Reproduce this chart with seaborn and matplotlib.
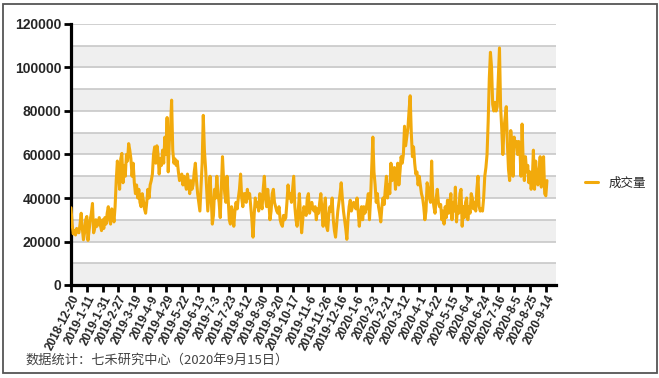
import numpy as np
import pandas as pd
import matplotlib
matplotlib.use("Agg")
import matplotlib.pyplot as plt
import seaborn as sns
from matplotlib.patches import Rectangle

# trading-day volume (one value per trading day)
seg00 = [35500, 28000, 23500, 25000, 23000, 26000, 24500, 24000, 28000, 33000, 26000, 20800, 24000, 30000]
seg01 = [31500, 20500, 25000, 30000, 33000, 37500, 24000, 26000, 30000, 27000, 29000, 31000, 27500, 25000]
seg02 = [30000, 26000, 31000, 28000, 33000, 36000, 30000, 28000, 35000, 34000, 29000, 36000, 48000, 57000]
seg03 = [52000, 44000, 58000, 60500, 47000, 55000, 50000, 60000, 57000, 65000, 62000, 58000, 50000, 56000]
seg04 = [47000, 42000, 46000, 40000, 44000, 38000, 36000, 42000, 39000, 35000, 33000, 38000, 44000, 40000]
seg05 = [46000, 48000, 51000, 60000, 63500, 56000, 64000, 60000, 51000, 58000, 55000, 62000, 56000, 68000]
seg06 = [60000, 77000, 52000, 66000, 72000, 85000, 62000, 56000, 58000, 55000, 57000, 52000, 48000, 50000]
seg07 = [51000, 46000, 50000, 47000, 44000, 51000, 47000, 42000, 48000, 44000, 46000, 52000, 56000, 48000]
seg08 = [42000, 38000, 34000, 45000, 56000, 78000, 62000, 54000, 44000, 34000, 42000, 50000, 40000, 28000]
seg09 = [32000, 44000, 40000, 50000, 42000, 38000, 31000, 45000, 59000, 48000, 42000, 38000, 50000, 40000]
seg10 = [30000, 28000, 36000, 33000, 27000, 34000, 38000, 35000, 40000, 44000, 51000, 40000, 36000, 42000]
seg11 = [42000, 38000, 44000, 40000, 42000, 36000, 30000, 22000, 32000, 40000, 36000, 38000, 34000, 42000]
seg12 = [38000, 35000, 44000, 50000, 40000, 36000, 44000, 38000, 30000, 34000, 42000, 44000, 38000, 36000]
seg13 = [34000, 33000, 36000, 30000, 28000, 27000, 32000, 30000, 31000, 38000, 46000, 40000, 42000, 38000]
seg14 = [44000, 50000, 36000, 30000, 27000, 34000, 42000, 32000, 24000, 30000, 36000, 34000, 32000, 40000]
seg15 = [42000, 33000, 36000, 38000, 35000, 34000, 36000, 30000, 35000, 33000, 38000, 42000, 34000, 27000]
seg16 = [36000, 40000, 27000, 25000, 32000, 36000, 34000, 40000, 30000, 25000, 22000, 28000, 34000, 38000]
seg17 = [42000, 47000, 40000, 34000, 30000, 26000, 21000, 30000, 36000, 39000, 34000, 36000, 38000, 37000]
seg18 = [35000, 40000, 34000, 27000, 32000, 36000, 30000, 36000, 33000, 35000, 38000, 42000, 30000, 40000]
seg19 = [54000, 68000, 52000, 46000, 38000, 42000, 36000, 33000, 29000, 36000, 40000, 37000, 44000, 50000]
seg20 = [40000, 46000, 42000, 56000, 48000, 52000, 54000, 44000, 50000, 56000, 46000, 52000, 59000, 56000]
seg21 = [60000, 73000, 64000, 68000, 72000, 80000, 87000, 70000, 59000, 63500, 56000, 51000, 52000, 46000]
seg22 = [50000, 46000, 42000, 40000, 36000, 30000, 34000, 47000, 44000, 40000, 38000, 57000, 40000, 36000]
seg23 = [33000, 40000, 44000, 38000, 36000, 37000, 30000, 34000, 28000, 36000, 31000, 39000, 33000, 37000]
seg24 = [42000, 30000, 38000, 34000, 45000, 29000, 36000, 33000, 42000, 44000, 27000, 36000, 31000, 38000]
seg25 = [40000, 30000, 36000, 33000, 42000, 40000, 35000, 38000, 34000, 44000, 50000, 36000, 34000, 35000]
seg26 = [34000, 40000, 50000, 54000, 60000, 75000, 95000, 107000, 100000, 83000, 80000, 84000, 80000, 82000]
seg27 = [96000, 109000, 82000, 72000, 60000, 72000, 77000, 82000, 65000, 53000, 48000, 71000, 62000, 50000]
seg28 = [68000, 64000, 66000, 60000, 66000, 64000, 50000, 74000, 56000, 48000, 59000, 52000, 55000, 47000]
seg29 = [52000, 44000, 48000, 62000, 44000, 57000, 50000, 46000, 52000, 59000, 45000, 50000, 59000, 42000]
seg30 = [41000, 48000]

volume = (seg00 + seg01 + seg02 + seg03 + seg04 + seg05 + seg06 + seg07 + seg08 + seg09
          + seg10 + seg11 + seg12 + seg13 + seg14 + seg15 + seg16 + seg17 + seg18 + seg19
          + seg20 + seg21 + seg22 + seg23 + seg24 + seg25 + seg26 + seg27 + seg28 + seg29
          + seg30)

tick_labels = ["2018-12-20", "2019-1-11", "2019-1-31", "2019-2-27", "2019-3-19", "2019-4-9",
               "2019-4-29", "2019-5-22", "2019-6-13", "2019-7-3", "2019-7-23", "2019-8-12",
               "2019-8-30", "2019-9-20", "2019-10-17", "2019-11-6", "2019-11-26", "2019-12-16",
               "2020-1-6", "2020-2-3", "2020-2-21", "2020-3-12", "2020-4-1", "2020-4-22",
               "2020-5-15", "2020-6-4", "2020-6-24", "2020-7-16", "2020-8-5", "2020-8-25",
               "2020-9-14"]
tick_step = 14
series_name = "成交量"
note = "数据统计：七禾研究中心（2020年9月15日）"

df = pd.DataFrame({"day": np.arange(len(volume)), series_name: volume})

sns.set_theme(style="white")
plt.rcParams["font.family"] = ["Liberation Sans", "Noto Sans CJK SC", "DejaVu Sans"]

LINE = "#F2AA0C"
fig = plt.figure(figsize=(6.59, 3.78), dpi=100)
ax = fig.add_axes([71 / 659, 1 - 285 / 378, (556 - 71) / 659, (285 - 24) / 378])

# alternating bands + grid lines
for lo in range(0, 120000, 20000):
    ax.axhspan(lo, lo + 10000, color="#EFEFEF", lw=0, zorder=0)
for g in range(10000, 120001, 10000):
    ax.axhline(g, color="#C4C4C4", lw=1.1, zorder=1)

sns.lineplot(data=df, x="day", y=series_name, ax=ax, color=LINE, linewidth=2.2,
             label=series_name, zorder=3)

ax.set_xlim(0, 429)
ax.set_ylim(0, 120000)
ax.set_yticks(range(0, 120001, 20000))
ax.set_yticklabels([str(v) for v in range(0, 120001, 20000)], fontsize=10, fontweight="bold")
ax.set_xticks(range(0, tick_step * len(tick_labels), tick_step))
ax.set_xticklabels(tick_labels, rotation=63, ha="right", rotation_mode="anchor",
                   fontsize=8.5, fontweight="bold")
ax.set_xlabel("")
ax.set_ylabel("")

for s in ["top", "right"]:
    ax.spines[s].set_visible(False)
for s in ["left", "bottom"]:
    ax.spines[s].set_color("black")
    ax.spines[s].set_linewidth(2.3)
ax.tick_params(axis="both", direction="out", length=5, width=2, color="black",
               bottom=True, left=True, pad=2)
ax.tick_params(axis="x", pad=1)

ax.legend(loc="center left", bbox_to_anchor=(585 / 659, 1 - 183 / 378),
          bbox_transform=fig.transFigure, frameon=False, handlelength=1.0,
          handletextpad=0.9, borderpad=0, borderaxespad=0,
          prop={"family": ["Noto Sans CJK SC"], "size": 9})

fig.text(25 / 659, 1 - 360 / 378, note, fontsize=9.5, color="#444444",
         family=["Noto Sans CJK SC", "DejaVu Sans"], va="center", ha="left")

fig.patches.append(Rectangle((3 / 659, 5 / 378), 654 / 659, 369 / 378,
                             transform=fig.transFigure, fill=False,
                             edgecolor="#555555", lw=1.3))

fig.savefig("out.png", dpi=100)
